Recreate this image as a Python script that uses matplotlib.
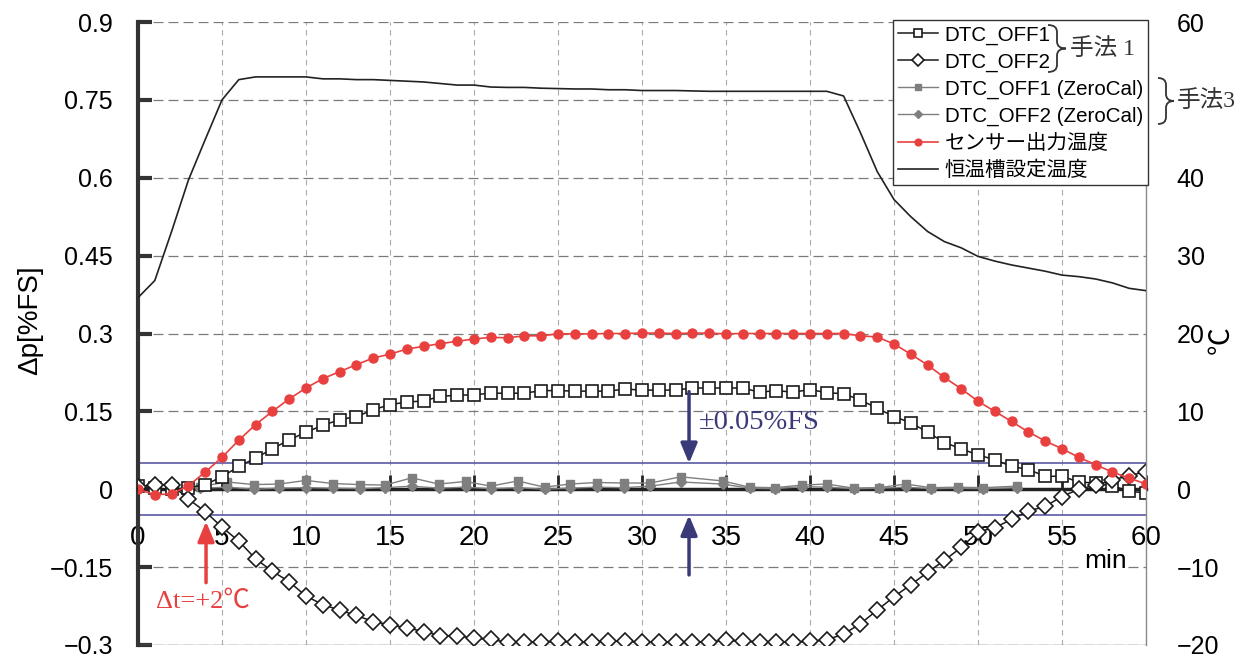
import numpy as np
import matplotlib.pyplot as plt
from matplotlib.path import Path
from matplotlib.patches import PathPatch

plt.rcParams['font.family'] = ['Liberation Sans', 'Noto Sans CJK JP', 'DejaVu Sans']
SERIF = ['Liberation Serif', 'Noto Sans CJK JP', 'DejaVu Sans']

# --- data ---
minutes = list(range(61))
dtc_off1 = [0.006, 0.002, 0.000, 0.003, 0.009, 0.024, 0.044, 0.060, 0.078, 0.095,
            0.110, 0.123, 0.134, 0.140, 0.153, 0.163, 0.168, 0.170, 0.179, 0.181,
            0.182, 0.185, 0.185, 0.185, 0.190, 0.190, 0.189, 0.189, 0.189, 0.193,
            0.191, 0.191, 0.191, 0.195, 0.195, 0.195, 0.195, 0.187, 0.190, 0.187,
            0.192, 0.186, 0.184, 0.172, 0.156, 0.140, 0.128, 0.110, 0.090, 0.078,
            0.066, 0.057, 0.044, 0.038, 0.025, 0.025, 0.014, 0.012, 0.007, -0.004,
            -0.007]
dtc_off2 = [0.005, 0.009, 0.009, -0.019, -0.043, -0.073, -0.100, -0.134, -0.158, -0.178,
            -0.206, -0.222, -0.233, -0.243, -0.255, -0.261, -0.267, -0.274, -0.282, -0.282,
            -0.287, -0.289, -0.295, -0.295, -0.295, -0.293, -0.295, -0.295, -0.293, -0.293,
            -0.295, -0.295, -0.295, -0.295, -0.294, -0.291, -0.293, -0.294, -0.294, -0.295,
            -0.293, -0.290, -0.279, -0.259, -0.233, -0.207, -0.184, -0.160, -0.137, -0.112,
            -0.082, -0.074, -0.058, -0.042, -0.033, -0.014, 0.000, 0.008, 0.018, 0.026,
            0.034]
zc_minutes = [3.7, 5.3, 6.9, 8.4, 10.0, 11.6, 13.2, 14.7, 16.3, 17.9, 19.5, 21.0,
              22.6, 24.2, 25.7, 27.3, 28.9, 30.5, 32.3, 34.8, 36.4, 37.9, 39.5, 41.0,
              42.6, 44.1, 45.7, 47.2, 48.8, 50.3, 52.3]
zc_off1 = [0.005, 0.014, 0.009, 0.010, 0.017, 0.011, 0.009, 0.008, 0.022, 0.010, 0.015, 0.006,
           0.016, 0.004, 0.010, 0.013, 0.012, 0.012, 0.024, 0.016, 0.004, 0.003, 0.008, 0.010,
           0.002, 0.003, 0.010, 0.003, 0.004, 0.003, 0.006]
zc_off2 = [0.002, 0.004, 0.000, 0.002, 0.003, 0.002, 0.001, 0.003, 0.006, 0.002, 0.004, 0.001,
           0.003, 0.000, 0.002, 0.004, 0.003, 0.006, 0.014, 0.010, 0.002, 0.001, 0.005, 0.004,
           0.001, 0.002, 0.004, 0.001, 0.002, 0.001, 0.003]
sensor_temp = [0.0, -0.7, -0.6, 0.45, 2.2, 4.1, 6.3, 8.3, 10.0, 11.6,
               13.0, 14.2, 15.1, 16.0, 16.85, 17.35, 18.0, 18.35, 18.7, 19.0,
               19.3, 19.5, 19.45, 19.7, 19.7, 19.95, 19.95, 19.95, 20.0, 20.0,
               20.05, 20.05, 20.0, 20.05, 20.05, 19.95, 20.0, 20.0, 20.0, 20.0,
               20.0, 20.0, 20.0, 19.7, 19.55, 18.65, 17.35, 15.95, 14.35, 12.9,
               11.3, 10.0, 8.7, 7.35, 6.2, 5.2, 4.1, 3.15, 2.2, 1.44,
               0.67]
bath_temp = [24.6, 26.8, 33.1, 39.7, 44.9, 50.0, 52.6, 52.95, 52.95, 52.95,
             52.95, 52.7, 52.7, 52.6, 52.6, 52.5, 52.4, 52.3, 52.1, 51.9,
             51.9, 51.65, 51.6, 51.6, 51.5, 51.45, 51.4, 51.4, 51.3, 51.3,
             51.2, 51.2, 51.2, 51.15, 51.1, 51.1, 51.1, 51.1, 51.1, 51.1,
             51.1, 51.1, 50.5, 45.8, 40.8, 37.2, 35.0, 33.1, 31.8, 31.0,
             29.9, 29.3, 28.8, 28.4, 28.0, 27.5, 27.3, 27.0, 26.5, 25.8,
             25.5]

x_ticks = list(range(0, 61, 5))
left_ticks = [-0.3, -0.15, 0, 0.15, 0.3, 0.45, 0.6, 0.75, 0.9]
left_labels = ['\u22120.3', '\u22120.15', '0', '0.15', '0.3', '0.45', '0.6', '0.75', '0.9']
right_ticks = [-20, -10, 0, 10, 20, 30, 40, 50, 60]
right_labels = ['\u221220', '\u221210', '0', '10', '20', '30', '40', '', '60']
legend_labels = ['DTC_OFF1', 'DTC_OFF2', 'DTC_OFF1 (ZeroCal)', 'DTC_OFF2 (ZeroCal)',
                 'センサー出力温度', '恒温槽設定温度']

W, H = 1245, 659
RED = '#e8403f'
NAVY = '#3b3a78'
GRAY = '#7f7f7f'

fig = plt.figure(figsize=(W / 100, H / 100), dpi=100)
ax = fig.add_axes([138 / W, 14 / H, 1008 / W, 623 / H])
ax2 = ax.twinx()

ax.set_xlim(0, 60)
ax.set_ylim(-0.3, 0.9)
ax2.set_ylim(-20, 60)

# grid
ax.set_xticks(x_ticks)
ax.set_xticklabels([str(v) for v in x_ticks])
ax.set_yticks(left_ticks)
ax.set_yticklabels(left_labels)
ax.grid(axis='y', ls=(0, (8, 4)), color='#7a7a7a', lw=0.9)
ax.grid(axis='x', ls=(0, (5, 4)), color='#ababab', lw=0.8)
ax.set_axisbelow(True)

# spines
ax.spines['bottom'].set_position(('data', 0))
ax.spines['bottom'].set_linewidth(2.5)
ax.spines['bottom'].set_color('#222222')
ax.spines['left'].set_linewidth(3)
ax.spines['left'].set_color('#333333')
ax.spines['top'].set_visible(False)
ax.spines['right'].set_visible(False)
for s in ['top', 'bottom', 'left']:
    ax2.spines[s].set_visible(False)
ax2.spines['right'].set_color('#8a8a8a')
ax2.spines['right'].set_linewidth(1)
ax.axhline(-0.3, color='#8a8a8a', lw=1, zorder=1)

ax.tick_params(axis='x', direction='in', length=10, width=2, color='#222222',
               pad=26, labelsize=20)
for lbl in ax.get_xticklabels():
    lbl.set_fontfamily(['Liberation Sans Narrow', 'Liberation Sans'])
ax.tick_params(axis='y', direction='in', length=10, width=3, color='#333333',
               pad=18, labelsize=18)

ax2.set_yticks(right_ticks)
ax2.set_yticklabels(right_labels)
ax2.tick_params(axis='y', length=0, pad=22, labelsize=18)

# tolerance band
ax.axhline(0.05, color='#5a5aa8', lw=1.2, zorder=2)
ax.axhline(-0.05, color='#5a5aa8', lw=1.2, zorder=2)

# series
l3, = ax.plot(zc_minutes, zc_off1, color=GRAY, lw=1, marker='s', ms=6, zorder=3)
l4, = ax.plot(zc_minutes, zc_off2, color=GRAY, lw=1, marker='D', ms=5, zorder=3)
l1, = ax.plot(minutes, dtc_off1, color='#1a1a1a', lw=1.1, marker='s', ms=8.5,
              mfc='white', mec='#1a1a1a', mew=1.2, zorder=4)
l2, = ax.plot(minutes, dtc_off2, color='#1a1a1a', lw=1.1, marker='D', ms=7.8,
              mfc='white', mec='#1a1a1a', mew=1.2, zorder=4)
l6, = ax2.plot(minutes, bath_temp, color='#222222', lw=1.2, zorder=3)
l5, = ax2.plot(minutes, sensor_temp, color=RED, lw=1.2, marker='o', ms=6.5,
               mec=RED, zorder=4)

# arrows and notes
arrow = dict(arrowstyle='-|>,head_length=0.6,head_width=0.25', lw=2.5, color=NAVY,
             shrinkA=0, shrinkB=0, mutation_scale=20)
ax.annotate('', xy=(32.8, 0.05), xytext=(32.8, 0.188), arrowprops=arrow, zorder=5)
ax.annotate('', xy=(32.8, -0.05), xytext=(32.8, -0.165), arrowprops=arrow, zorder=5)
ax.text(33.4, 0.128, '±0.05%FS', color=NAVY, fontsize=20.5, family=SERIF,
        ha='left', va='center')
red_arrow = dict(arrow, color=RED)
ax.annotate('', xy=(4.05, -0.062), xytext=(4.05, -0.18), arrowprops=red_arrow, zorder=5)
ax.text(1.1, -0.216, 'Δt=+2℃', color=RED, fontsize=19, family=SERIF,
        ha='left', va='center')
ax.text(57.6, -0.138, 'min', fontsize=19, ha='center', va='center',
        bbox=dict(fc='white', ec='none', pad=1))

# axis titles
fig.text(30 / W, 1 - 320 / H, 'Δp[%FS]', rotation=90, ha='center', va='center',
         fontsize=20)
fig.text(1222 / W, 1 - 340 / H, '℃', rotation=90, ha='center', va='center',
         fontsize=20)

# legend
leg = ax2.legend([l1, l2, l3, l4, l5, l6], legend_labels, loc='upper right',
                 bbox_to_anchor=(1.002, 1.003), borderaxespad=0, fontsize=14.8,
                 handlelength=1.95, handletextpad=0.33, labelspacing=0.38,
                 borderpad=0.25, fancybox=False, edgecolor='#333333',
                 framealpha=1, markerscale=0.75)
leg.get_frame().set_linewidth(1.0)
leg.set_zorder(10)


def brace(x, yt, yb, w):
    # right-facing curly brace in figure pixels (y measured from top)
    xm = x + w * 0.5
    r = min(w * 0.5, (yb - yt) * 0.15)
    ym = (yt + yb) / 2
    pts = [(x, yt), (xm, yt), (xm, yt + r), (xm, ym - r), (xm, ym), (x + w, ym),
           (xm, ym), (xm, ym + r), (xm, yb - r), (xm, yb), (x, yb)]
    codes = [Path.MOVETO, Path.CURVE3, Path.CURVE3, Path.LINETO, Path.CURVE3, Path.CURVE3,
             Path.CURVE3, Path.CURVE3, Path.LINETO, Path.CURVE3, Path.CURVE3]
    verts = [(px / W, 1 - py / H) for px, py in pts]
    fig.patches.append(PathPatch(Path(verts, codes), fill=False, lw=1.3, ec='#333333',
                                 transform=fig.transFigure, zorder=20))


brace(1048, 25, 72, 18)
brace(1158, 78, 124, 16)
fig.text(1070 / W, 1 - 49 / H, '手法 1', fontsize=17, family=SERIF, ha='left',
         va='center', color='#333333', zorder=20)
fig.text(1177 / W, 1 - 101 / H, '手法3', fontsize=17, family=SERIF, ha='left',
         va='center', color='#333333', zorder=20)

fig.savefig('out.png', dpi=100)
